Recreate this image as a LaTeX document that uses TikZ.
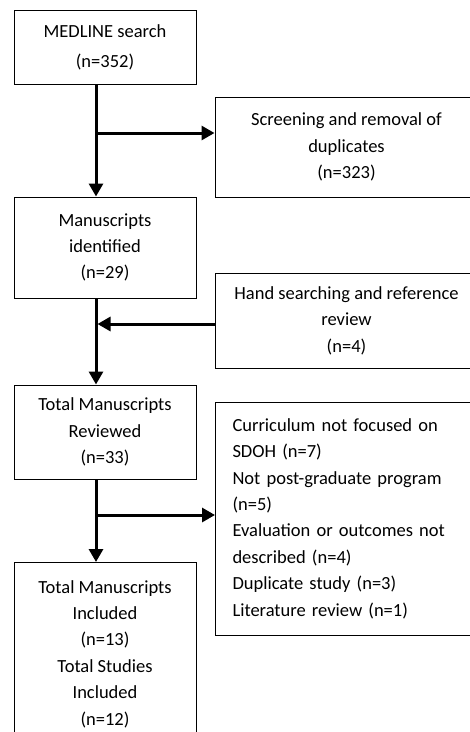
\documentclass[tikz,border=0pt]{standalone}
\usepackage{fontspec}
\setmainfont{Carlito}
\usetikzlibrary{arrows.meta}
\begin{document}
\begin{tikzpicture}[x=1pt,y=-1pt,
  box/.style={draw=black, line width=1pt, rectangle, inner sep=0pt,
    font=\fontsize{18.5}{26.4}\selectfont, align=center},
  lbox/.style={box, align=left, text width=240pt, inner xsep=17pt},
  arr/.style={line width=3pt, -{Triangle[length=13pt,width=14pt]}},
  ln/.style={line width=3pt}]
\useasboundingbox (0,0) rectangle (470,732);
\node[box, minimum width=182pt, minimum height=74pt, font=\fontsize{18.5}{30}\selectfont] (b1) at (105,47) {MEDLINE search\\(n=352)};
\node[box, minimum width=263pt, minimum height=100pt] (b2) at (346.5,147) {Screening and removal of\\duplicates\\(n=323)};
\node[box, minimum width=182pt, minimum height=101pt] (b3) at (105,247.5) {Manuscripts\\identified\\(n=29)};
\node[box, minimum width=263pt, minimum height=95pt] (b4) at (346.5,320.5) {Hand searching and reference\\review\\(n=4)};
\node[box, minimum width=182pt, minimum height=94pt] (b5) at (105,432) {Total Manuscripts\\Reviewed\\(n=33)};
\node[lbox, minimum width=274pt, minimum height=233pt, anchor=west] (b6) at (215,518.5) {Curriculum not focused on\\SDOH (n=7)\\Not post-graduate program\\(n=5)\\Evaluation or outcomes not\\described (n=4)\\Duplicate study (n=3)\\Literature review (n=1)};
\node[box, anchor=north, minimum width=182pt, minimum height=183pt] (b7) at (105,562) {Total Manuscripts\\Included\\(n=13)\\Total Studies\\Included\\(n=12)};
\coordinate (m1) at (96,133);
\coordinate (m2) at (97.5,324);
\coordinate (m3) at (96,515);
\draw[arr] (b1.south -| m1) -- (b3.north -| m1);
\draw[arr] (m1) -- (b2.west |- m1);
\draw[arr] (b3.south -| m1) -- (b5.north -| m1);
\draw[arr] (b4.west |- m2) -- (m2);
\draw[arr] (b5.south -| m3) -- (b7.north -| m3);
\draw[arr] (m3) -- (b6.west |- m3);
\end{tikzpicture}
\end{document}
